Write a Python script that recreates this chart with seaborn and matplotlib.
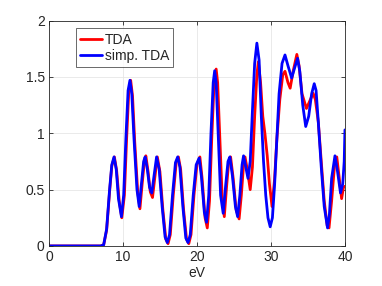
import matplotlib
matplotlib.use("Agg")
import matplotlib.pyplot as plt
import seaborn as sns
import pandas as pd

# energies (eV) and spectra
x_tda = [0, 7.0, 7.4, 7.8, 8.2, 8.5, 8.85, 9.15, 9.5, 9.85, 10.2, 10.5, 10.8, 11.05, 11.3, 11.6,
         12.0, 12.3, 12.6, 12.9, 13.1, 13.4, 13.7, 14.0, 14.3, 14.65, 15.0, 15.4, 15.8, 16.1,
         16.4, 16.8, 17.2, 17.5, 17.8, 18.2, 18.6, 18.9, 19.2, 19.6, 20.0, 20.4, 20.7, 21.1,
         21.4, 21.7, 22.0, 22.3, 22.6, 22.8, 23.1, 23.4, 23.7, 24.0, 24.3, 24.55, 24.9, 25.3,
         25.7, 26.0, 26.3, 26.5, 26.8, 27.2, 27.5, 27.8, 28.1, 28.3, 28.6, 28.9, 29.2, 29.5,
         29.8, 30.15, 30.5, 30.8, 31.2, 31.6, 31.9, 32.3, 32.6, 33.0, 33.5, 33.8, 34.2, 34.8,
         35.2, 35.7, 36.0, 36.4, 36.8, 37.2, 37.6, 37.85, 38.2, 38.6, 38.9, 39.2, 39.55, 39.8, 40.0]
y_tda = [0, 0, 0.01, 0.14, 0.48, 0.71, 0.79, 0.67, 0.40, 0.25, 0.45, 0.95, 1.38, 1.47, 1.33, 0.92,
         0.48, 0.33, 0.55, 0.75, 0.80, 0.66, 0.48, 0.43, 0.60, 0.79, 0.66, 0.32, 0.06, 0.02,
         0.10, 0.45, 0.74, 0.79, 0.68, 0.32, 0.06, 0.02, 0.10, 0.45, 0.72, 0.79, 0.60, 0.25,
         0.16, 0.40, 0.95, 1.42, 1.57, 1.45, 0.95, 0.45, 0.26, 0.52, 0.75, 0.79, 0.60, 0.32,
         0.24, 0.45, 0.72, 0.79, 0.68, 0.50, 0.70, 1.15, 1.52, 1.635, 1.45, 1.15, 0.99, 0.80,
         0.55, 0.35, 0.60, 0.95, 1.30, 1.52, 1.55, 1.45, 1.40, 1.55, 1.70, 1.60, 1.35, 1.22,
         1.28, 1.355, 1.30, 1.10, 0.75, 0.40, 0.18, 0.16, 0.40, 0.72, 0.79, 0.62, 0.42, 0.52, 0.53]

x_simp = [0, 7.0, 7.4, 7.8, 8.2, 8.5, 8.8, 9.1, 9.4, 9.8, 10.1, 10.4, 10.7, 10.95, 11.2, 11.5,
          11.9, 12.2, 12.5, 12.8, 13.0, 13.3, 13.6, 13.9, 14.2, 14.55, 14.9, 15.3, 15.7, 16.0,
          16.3, 16.7, 17.1, 17.4, 17.7, 18.1, 18.5, 18.8, 19.1, 19.5, 19.9, 20.3, 20.6, 21.0,
          21.3, 21.6, 21.9, 22.2, 22.4, 22.6, 22.9, 23.2, 23.55, 23.9, 24.2, 24.45, 24.8, 25.2,
          25.5, 25.8, 26.1, 26.3, 26.6, 26.9, 27.2, 27.5, 27.8, 28.1, 28.4, 28.7, 29.0, 29.3,
          29.6, 29.9, 30.2, 30.5, 30.8, 31.1, 31.5, 31.9, 32.3, 32.8, 33.2, 33.6, 33.9, 34.3,
          34.7, 35.1, 35.5, 35.85, 36.1, 36.4, 36.8, 37.2, 37.65, 37.9, 38.2, 38.65, 39.0, 39.4,
          39.7, 39.9, 40.0]
y_simp = [0, 0, 0.01, 0.15, 0.50, 0.72, 0.79, 0.68, 0.42, 0.26, 0.45, 0.95, 1.38, 1.47, 1.35, 0.95,
          0.50, 0.35, 0.55, 0.75, 0.79, 0.68, 0.52, 0.47, 0.62, 0.79, 0.68, 0.35, 0.08, 0.03,
          0.10, 0.45, 0.74, 0.79, 0.70, 0.35, 0.07, 0.03, 0.10, 0.45, 0.72, 0.78, 0.62, 0.30,
          0.21, 0.45, 1.00, 1.45, 1.555, 1.45, 0.95, 0.45, 0.29, 0.55, 0.75, 0.79, 0.62, 0.35,
          0.26, 0.45, 0.72, 0.80, 0.70, 0.60, 0.75, 1.20, 1.62, 1.80, 1.65, 1.15, 0.75, 0.45,
          0.25, 0.17, 0.25, 0.55, 0.95, 1.35, 1.62, 1.695, 1.60, 1.49, 1.58, 1.665, 1.55, 1.25,
          1.06, 1.15, 1.35, 1.44, 1.38, 1.10, 0.70, 0.35, 0.16, 0.28, 0.60, 0.80, 0.66, 0.47,
          0.55, 0.75, 1.03]

df = pd.concat([
    pd.DataFrame({"eV": x_tda, "val": y_tda, "method": "TDA"}),
    pd.DataFrame({"eV": x_simp, "val": y_simp, "method": "simp. TDA"}),
])

sns.set_style("white")
plt.rcParams["font.family"] = ["Liberation Sans", "DejaVu Sans"]

fig = plt.figure(figsize=(3.82, 2.86), dpi=100)
ax = fig.add_axes([0.128, 0.14, 0.775, 0.788])
sns.lineplot(data=df, x="eV", y="val", hue="method", sort=False,
             palette={"TDA": "#ff0000", "simp. TDA": "#0000ff"},
             linewidth=2, ax=ax, legend=True)

ax.set_xlim(0, 40)
ax.set_ylim(0, 2)
ax.set_xticks([0, 10, 20, 30, 40])
ax.set_yticks([0, 0.5, 1, 1.5, 2])
ax.set_yticklabels(["0", "0.5", "1", "1.5", "2"])
ax.set_xlabel("eV", fontsize=10, color="#262626", labelpad=1)
ax.set_ylabel("")
ax.grid(True, color="#e6e6e6", linewidth=0.6)
ax.set_axisbelow(True)
for s in ax.spines.values():
    s.set_color("#262626")
    s.set_linewidth(0.6)
ax.tick_params(direction="in", length=3, width=0.6, labelsize=10, colors="#262626",
               top=True, right=True, bottom=True, left=True, pad=3)

leg = ax.legend(loc="upper left", bbox_to_anchor=(0.09, 0.965), fontsize=10,
                frameon=True, fancybox=False, handlelength=1.6, handletextpad=0.2,
                borderpad=0.3, labelspacing=0.15, borderaxespad=0)
leg.get_frame().set_edgecolor("#262626")
leg.get_frame().set_linewidth(0.6)

fig.savefig("out.png", dpi=100)
